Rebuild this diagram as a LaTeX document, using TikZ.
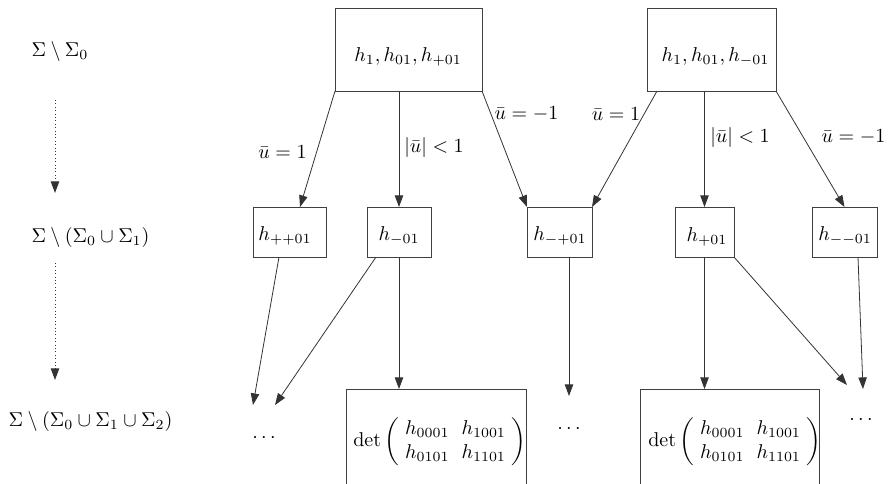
\documentclass[tikz,border=0pt]{standalone}
\usetikzlibrary{arrows.meta}
\begin{document}
\begin{tikzpicture}[x=0.5pt,y=-0.5pt,
  box/.style={draw=black!75, line width=0.45pt, rectangle, inner sep=0pt, outer sep=0pt},
  lbl/.style={inner sep=0pt, outer sep=0pt},
  arr/.style={draw=black!80, line width=0.4pt, -{Triangle[length=5.8pt,width=4.2pt]}},
  darr/.style={arr, line width=0.5pt, dash pattern=on 0.5pt off 1.2pt}]
\path[use as bounding box, clip] (0,0) rectangle (889,483);

% left column
\node[lbl] (L0) at (60,51) {$\Sigma\setminus\Sigma_0$};
\node[lbl] (L1) at (90.5,237) {$\Sigma\setminus(\Sigma_0\cup\Sigma_1)$};
\node[lbl] (L2) at (90.5,421) {$\Sigma\setminus(\Sigma_0\cup\Sigma_1\cup\Sigma_2)$};
\coordinate (p0) at (55,100);
\coordinate (p1) at (55,193);
\coordinate (p2) at (55,263);
\coordinate (p3) at (55,380);
\draw[darr] (p0) -- (p1);
\draw[darr] (p2) -- (p3);

% top boxes
\node[box, minimum width=73.5pt, minimum height=41.5pt] (t1) at (408.5,49.5) {};
\node[lbl] (t1l) at (408,57) {$h_1,h_{01},h_{+01}$};
\node[box, minimum width=64.5pt, minimum height=41.5pt] (t2) at (711.5,49.5) {};
\node[lbl] (t2l) at (715.5,57) {$h_1,h_{01},h_{-01}$};

% middle boxes
\node[box, minimum width=36.5pt, minimum height=25pt] (A) at (289.5,232) {};
\node[lbl] (Al) at (285,236) {$h_{++01}$};
\node[box, minimum width=32pt, minimum height=25pt] (B) at (399,232) {};
\node[lbl] (Bl) at (399,236) {$h_{-01}$};
\node[box, minimum width=32.5pt, minimum height=25pt] (C) at (559.5,232) {};
\node[lbl] (Cl) at (560,236) {$h_{-+01}$};
\node[box, minimum width=29.5pt, minimum height=25pt] (D) at (704.5,232) {};
\node[lbl] (Dl) at (707,237) {$h_{+01}$};
\node[box, minimum width=32.5pt, minimum height=25pt] (E) at (844.5,232) {};
\node[lbl] (El) at (845,236) {$h_{--01}$};

% bottom boxes (cut off by the lower edge)
\node[box, minimum width=90pt, minimum height=60pt] (M1) at (436,449) {};
\node[lbl] (M1l) at (440,441.5) {\arraycolsep=3pt$\det\left(\begin{array}{cc} h_{0001} & h_{1001}\\ h_{0101} & h_{1101}\end{array}\right)$};
\node[box, minimum width=89.5pt, minimum height=60pt] (M2) at (729.5,449) {};
\node[lbl] (M2l) at (735,441.5) {\arraycolsep=3pt$\det\left(\begin{array}{cc} h_{0001} & h_{1001}\\ h_{0101} & h_{1101}\end{array}\right)$};

% dots
\node[lbl] (d1) at (264,438) {$\cdots$};
\node[lbl] (d2) at (569,429) {$\cdots$};
\node[lbl] (d3) at (861,420) {$\cdots$};

% arrow tips near the dots
\coordinate (d1a) at (253,405);
\coordinate (d1b) at (275,405);
\coordinate (d2a) at (569,396);
\coordinate (d3a) at (847,385);
\coordinate (d3b) at (863,389);

% top-level arrows
\draw[arr] (t1.south west) -- ([xshift=5.25pt]A.north);
\draw[arr] (t1.south -| B.north) -- (B.north);
\draw[arr] (t1.south east) -- (C.north west);
\draw[arr] ([xshift=5pt]t2.south west) -- (C.north east);
\draw[arr] (t2.south -| D.north) -- (D.north);
\draw[arr] (t2.south east) -- (E.north);

% edge labels
\node[lbl] (e1) at (282.5,152) {$\bar u = 1$};
\node[lbl] (e2) at (434,147) {$|\bar u| < 1$};
\node[lbl] (e3) at (526.5,113.5) {$\bar u = -1$};
\node[lbl] (e4) at (616,114) {$\bar u = 1$};
\node[lbl] (e5) at (740,137) {$|\bar u| < 1$};
\node[lbl] (e6) at (853.5,137) {$\bar u = -1$};

% lower arrows
\draw[arr] ([xshift=-5.25pt]A.south) -- (d1a);
\draw[arr] ([xshift=4.5pt]B.south west) -- (d1b);
\draw[arr] (B.south) -- (B.south |- M1.north);
\draw[arr] ([xshift=4.75pt]C.south) -- (d2a);
\draw[arr] (D.south) -- (D.south |- M2.north);
\draw[arr] (D.south east) -- (d3a);
\draw[arr] ([xshift=6.75pt]E.south) -- (d3b);
\end{tikzpicture}
\end{document}
